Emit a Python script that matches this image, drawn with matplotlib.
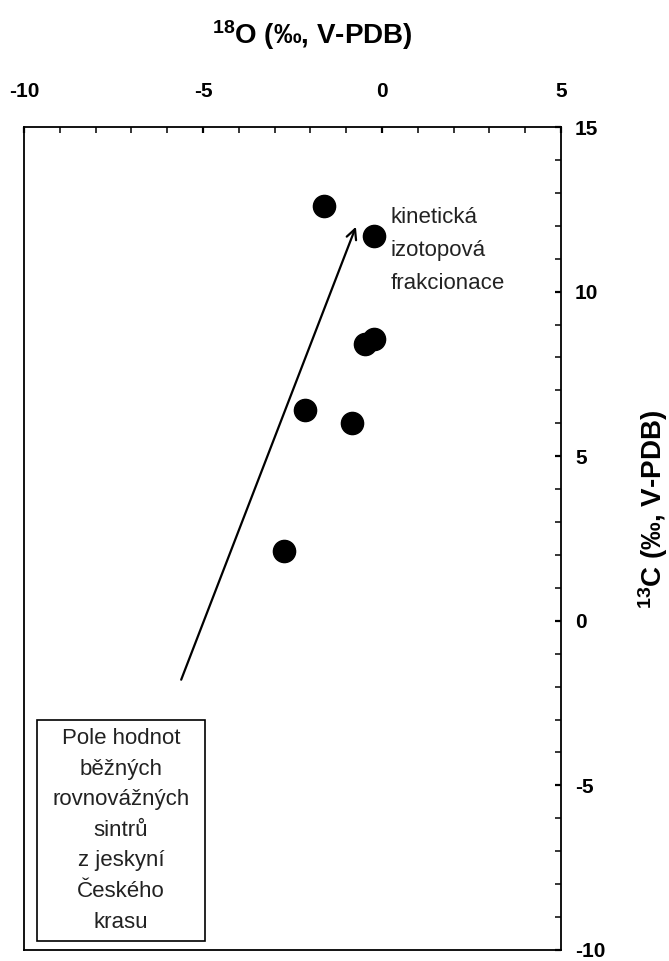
import matplotlib
matplotlib.use("Agg")
import matplotlib.pyplot as plt
from matplotlib.patches import Rectangle
from matplotlib.ticker import MultipleLocator

plt.rcParams["font.family"] = ["Liberation Sans", "DejaVu Sans"]
plt.rcParams["mathtext.default"] = "regular"
plt.rcParams["axes.unicode_minus"] = False

# measured values (d18O, d13C)
d18o = [-1.62, -0.22, -0.22, -0.47, -2.15, -0.84, -2.74]
d13c = [12.6, 11.7, 8.55, 8.4, 6.39, 6.0, 2.12]

# trend arrow (kinetic fractionation)
arrow_start = (-5.61, -1.79)
arrow_end = (-0.73, 11.97)

# field of equilibrium speleothems (box)
box_x = (-9.64, -4.94)
box_y = (-9.73, -3.0)
box_text = "Pole hodnot\nběžných\nrovnovážných\nsintrů\nz jeskyní\nČeského\nkrasu"
arrow_text = "kinetická\nizotopová\nfrakcionace"

fig = plt.figure(figsize=(6.69, 9.61), dpi=100)
ax = fig.add_axes([0.0359, 0.0115, 0.8027, 0.8563])

ax.plot(d18o, d13c, "o", color="black", markersize=16, zorder=3)

ax.annotate("", xy=arrow_end, xytext=arrow_start,
            arrowprops=dict(arrowstyle="->", color="black", lw=1.6,
                            mutation_scale=18, shrinkA=0, shrinkB=0))
ax.text(0.25, 12.57, arrow_text, fontsize=16, va="top", ha="left",
        linespacing=1.75, color="#222222")

ax.add_patch(Rectangle((box_x[0], box_y[0]), box_x[1] - box_x[0], box_y[1] - box_y[0],
                       fill=False, edgecolor="black", lw=1.2))
ax.text((box_x[0] + box_x[1]) / 2, (box_y[0] + box_y[1]) / 2, box_text,
        fontsize=16, ha="center", va="center", linespacing=1.6, color="#222222")

ax.set_xlim(-10, 5)
ax.set_ylim(-10, 15)
ax.xaxis.tick_top()
ax.xaxis.set_label_position("top")
ax.yaxis.tick_right()
ax.yaxis.set_label_position("right")
ax.xaxis.set_major_locator(MultipleLocator(5))
ax.xaxis.set_minor_locator(MultipleLocator(1))
ax.yaxis.set_major_locator(MultipleLocator(5))
ax.yaxis.set_minor_locator(MultipleLocator(1))
ax.tick_params(which="both", direction="in", top=True, right=True,
               bottom=False, left=False, labeltop=True, labelright=True,
               labelbottom=False, labelleft=False)
ax.tick_params(which="major", length=4, width=1.6, labelsize=15)
ax.tick_params(axis="x", which="major", pad=19)
ax.tick_params(axis="y", which="major", pad=10)
ax.tick_params(which="minor", length=4, width=1.1)
for lab in ax.get_xticklabels() + ax.get_yticklabels():
    lab.set_fontweight("bold")
for sp in ax.spines.values():
    sp.set_linewidth(1.3)

ax.set_xlabel(r"$^{18}$O (‰, V-PDB)", fontsize=20, fontweight="bold")
ax.set_ylabel(r"$^{13}$C (‰, V-PDB)", fontsize=20, fontweight="bold")
ax.xaxis.set_label_coords(0.536, 1.112)
ax.yaxis.set_label_coords(1.171, 0.535)
for lbl in (ax.xaxis.label, ax.yaxis.label):
    lbl.set_ha("center")
    lbl.set_va("center")

fig.savefig("out.png", dpi=100)
